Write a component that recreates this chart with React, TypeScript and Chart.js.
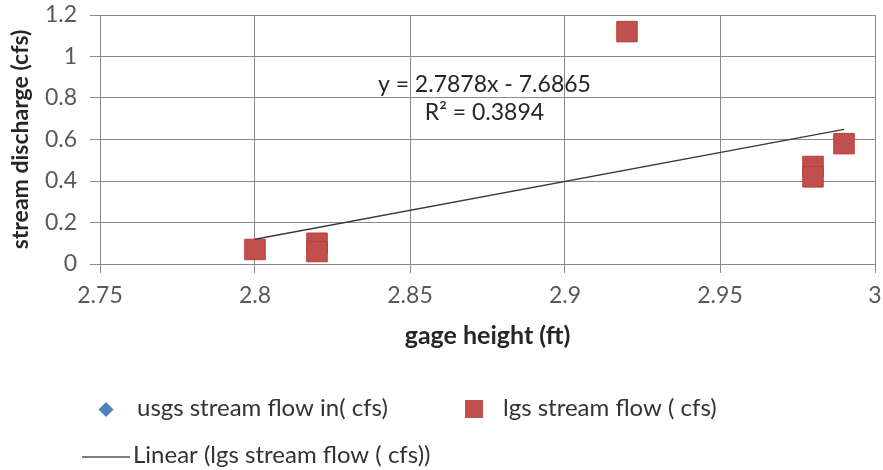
import React, { useEffect, useRef } from "react";
import { Chart, registerables } from "chart.js";

Chart.register(...registerables);

// ---- data ----
const gageHeight = [2.8, 2.82, 2.82, 2.92, 2.98, 2.98, 2.99];
const lgsFlow = [0.07, 0.1, 0.06, 1.12, 0.47, 0.42, 0.58];
const usgsGage: number[] = [];
const usgsFlow: number[] = [];
const trendSlope = 2.7878;
const trendIntercept = -7.6865;
const rSquared = 0.3894;
const xTicks = [2.75, 2.8, 2.85, 2.9, 2.95, 3];
const yTicks = [0, 0.2, 0.4, 0.6, 0.8, 1, 1.2];
const seriesNames = ["usgs stream flow in( cfs)", "lgs stream flow ( cfs)", "Linear (lgs stream flow ( cfs))"];
const equationText = `y = ${trendSlope}x - ${Math.abs(trendIntercept)}`;
const r2Text = `R² = ${rSquared}`;

const FONT = "Lato, 'Open Sans', sans-serif";
const GRID = "#8a8a8a";
const RED = "#C0504D";
const BLUE = "#4F81BD";

const annotationPlugin = {
  id: "annot",
  afterDraw(chart: any) {
    const ctx = chart.ctx;
    const xs = chart.scales.x;
    const ys = chart.scales.y;
    ctx.save();
    ctx.fillStyle = "#262626";
    ctx.font = `23px ${FONT}`;
    ctx.textAlign = "center";
    ctx.textBaseline = "middle";
    const cx = xs.getPixelForValue(2.874);
    ctx.fillText(equationText, cx, ys.getPixelForValue(0.867));
    ctx.fillText(r2Text, cx, ys.getPixelForValue(0.728));

    // legend
    ctx.textAlign = "left";
    ctx.font = `24px ${FONT}`;
    ctx.fillStyle = BLUE;
    ctx.beginPath();
    ctx.moveTo(106, 402);
    ctx.lineTo(113.5, 409.5);
    ctx.lineTo(106, 417);
    ctx.lineTo(98.5, 409.5);
    ctx.closePath();
    ctx.fill();
    ctx.fillStyle = "#333";
    ctx.fillText(seriesNames[0], 137, 408);
    ctx.fillStyle = RED;
    ctx.fillRect(465, 400, 18, 18);
    ctx.fillStyle = "#333";
    ctx.fillText(seriesNames[1], 503, 408);
    ctx.strokeStyle = "#7f7f7f";
    ctx.lineWidth = 2;
    ctx.beginPath();
    ctx.moveTo(82, 457);
    ctx.lineTo(130, 457);
    ctx.stroke();
    ctx.fillText(seriesNames[2], 133, 455);
    ctx.restore();
  },
};

export default function App() {
  const ref = useRef<HTMLCanvasElement>(null);
  useEffect(() => {
    if (!ref.current) return;
    const xMin = Math.min(...gageHeight);
    const xMax = Math.max(...gageHeight);
    const chart = new Chart(ref.current, {
      type: "scatter",
      data: {
        datasets: [
          {
            label: seriesNames[0],
            data: usgsGage.map((x, i) => ({ x, y: usgsFlow[i] })),
            pointStyle: "rectRot",
            backgroundColor: BLUE,
            borderColor: BLUE,
            pointRadius: 7,
          },
          {
            label: seriesNames[2],
            type: "line",
            data: [
              { x: xMin, y: trendSlope * xMin + trendIntercept },
              { x: xMax, y: trendSlope * xMax + trendIntercept },
            ],
            borderColor: "#3a3a3a",
            borderWidth: 1.3,
            pointRadius: 0,
            showLine: true,
            fill: false,
          } as any,
          {
            label: seriesNames[1],
            data: gageHeight.map((x, i) => ({ x, y: lgsFlow[i] })),
            pointStyle: "rect",
            backgroundColor: RED,
            borderColor: "#b8403d",
            borderWidth: 1,
            pointRadius: 14.5,
          },
        ],
      },
      options: {
        responsive: false,
        devicePixelRatio: 1,
        animation: false,
        layout: { autoPadding: false, padding: { left: 0, top: 15, right: 8, bottom: 119 } },
        plugins: { legend: { display: false }, tooltip: { enabled: false } },
        scales: {
          x: {
            type: "linear",
            min: xTicks[0],
            max: xTicks[xTicks.length - 1],
            afterBuildTicks: (s: any) => {
              s.ticks = xTicks.map((v) => ({ value: v }));
            },
            afterFit: (s: any) => {
              s.height = 87;
              s.paddingLeft = 0;
              s.paddingRight = 0;
            },
            ticks: {
              callback: (v: any) => String(+Number(v).toFixed(2)),
              color: "#595959",
              font: { family: FONT, size: 23 },
              padding: 9,
            },
            grid: { color: GRID, tickLength: 9, tickColor: GRID },
            border: { color: GRID },
            title: {
              display: true,
              text: "gage height (ft)",
              color: "#262626",
              font: { family: FONT, size: 25, weight: "bold" },
              padding: { top: 0, bottom: 0 },
            },
          },
          y: {
            type: "linear",
            min: yTicks[0],
            max: yTicks[yTicks.length - 1],
            afterBuildTicks: (s: any) => {
              s.ticks = yTicks.map((v) => ({ value: v }));
            },
            afterFit: (s: any) => {
              s.width = 100;
              s.paddingTop = 0;
              s.paddingBottom = 0;
            },
            ticks: {
              callback: (v: any) => String(+Number(v).toFixed(1)),
              color: "#595959",
              font: { family: FONT, size: 23 },
              padding: 13,
            },
            grid: { color: GRID, tickLength: 10, tickColor: GRID },
            border: { color: GRID },
            title: {
              display: true,
              text: "stream discharge (cfs)",
              color: "#262626",
              font: { family: FONT, size: 23, weight: "bold" },
              padding: { top: 7, bottom: 0 },
            },
          },
        },
      },
      plugins: [annotationPlugin],
    });
    return () => chart.destroy();
  }, []);
  return (
    <div style={{ position: "absolute", left: 0, top: 0, width: 883, height: 470, background: "#fff" }}>
      <canvas ref={ref} width={883} height={470} />
    </div>
  );
}
